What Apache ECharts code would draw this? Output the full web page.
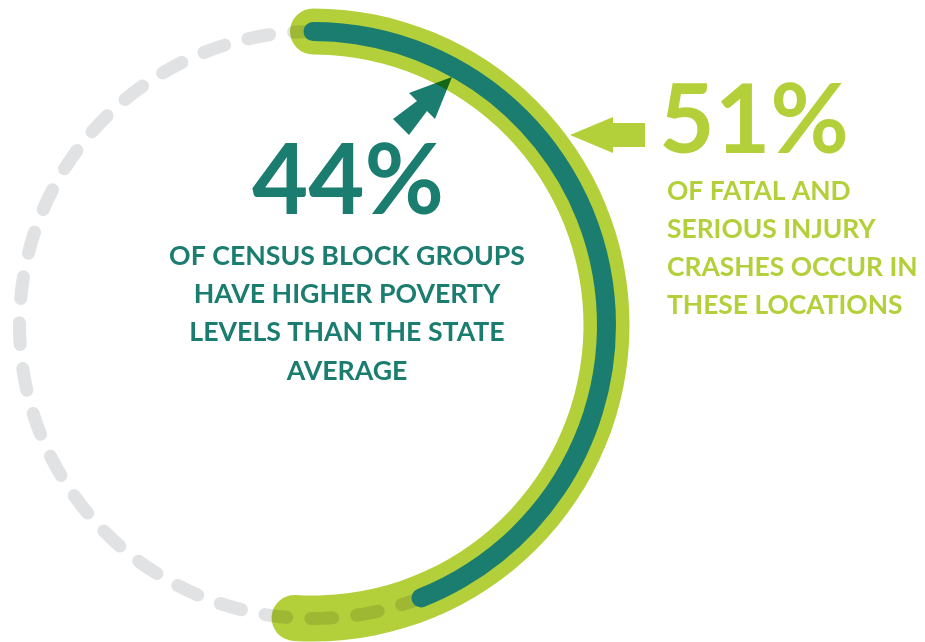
<!DOCTYPE html>
<html>
<head>
<meta charset="utf-8">
<script src="https://cdn.jsdelivr.net/npm/echarts@6/dist/echarts.min.js"></script>
<style>
  html, body { margin: 0; padding: 0; background: #fff; }
  #chart { width: 925px; height: 642px; }
</style>
</head>
<body>
<div id="chart"></div>
<script>
// shares shown on the ring (percent of the full circle)
var labels = ['44%', '51%'];
var shareNames = ['Census block groups above state poverty level', 'Fatal and serious injury crashes'];
var shareValues = [44, 51];
var notes = [
  'OF CENSUS BLOCK GROUPS\nHAVE HIGHER POVERTY\nLEVELS THAN THE STATE\nAVERAGE',
  'OF FATAL AND\nSERIOUS INJURY\nCRASHES OCCUR IN\nTHESE LOCATIONS'
];

var teal = '#1b7d6f';
var lime = '#b3d03a';
var grey = '#e1e2e4';
var cx = 313, cy = 325, r = 293.5;

function ring(name, value, width, color, blend) {
  return {
    type: 'gauge',
    name: name,
    center: [cx, cy],
    radius: r + width / 2,
    startAngle: 90,
    endAngle: -270,
    min: 0,
    max: 100,
    blendMode: blend,
    progress: { show: true, roundCap: true, width: width, itemStyle: { color: color } },
    axisLine: { show: false },
    axisTick: { show: false },
    splitLine: { show: false },
    axisLabel: { show: false },
    pointer: { show: false },
    anchor: { show: false },
    title: { show: false },
    detail: { show: false },
    data: [{ value: value, name: name }]
  };
}

var chart = echarts.init(document.getElementById('chart'));
chart.setOption({
  animation: false,
  polar: { center: [cx, cy], radius: r },
  angleAxis: {
    type: 'value',
    min: 0,
    max: 100,
    axisLine: {
      lineStyle: { color: grey, width: 13, type: [22, 24.1], cap: 'round', dashOffset: 20 }
    },
    axisTick: { show: false },
    axisLabel: { show: false },
    splitLine: { show: false }
  },
  radiusAxis: { type: 'value', show: false },
  series: [
    ring(shareNames[1], shareValues[1], 46, lime, 'multiply'),
    ring(shareNames[0], shareValues[0], 19, teal, null)
  ],
  graphic: [
    // teal arrow toward the inner arc
    {
      type: 'polygon',
      shape: { points: [[452, 77], [409, 93], [417, 101], [393, 119], [409, 135], [427, 111], [435, 119]] },
      style: { fill: teal }
    },
    // lime arrow toward the outer arc
    {
      type: 'polygon',
      shape: { points: [[570, 135], [613, 117], [613, 123], [645, 123], [645, 147], [613, 147], [613, 153]] },
      style: { fill: lime }
    },
    {
      type: 'text', x: 348, y: 183,
      style: { text: labels[0], fill: teal, font: 'bold 97px Lato', align: 'center', verticalAlign: 'middle' }
    },
    {
      type: 'text', x: 347, y: 237,
      style: { text: notes[0], fill: teal, font: 'bold 26.7px Lato', align: 'center', verticalAlign: 'top', lineHeight: 38.3 }
    },
    {
      type: 'text', x: 659, y: 122,
      style: { text: labels[1], fill: lime, font: 'bold 96px Lato', align: 'left', verticalAlign: 'middle' }
    },
    {
      type: 'text', x: 667, y: 173,
      style: { text: notes[1], fill: lime, font: 'bold 26.4px Lato', align: 'left', verticalAlign: 'top', lineHeight: 37.8 }
    }
  ]
});
</script>
</body>
</html>
